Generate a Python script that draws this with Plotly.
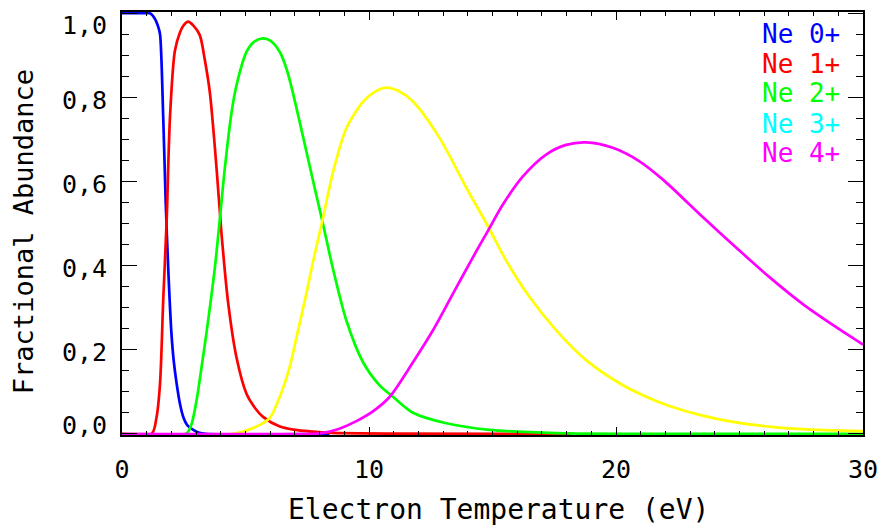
import plotly.graph_objects as go

# ---- data ----
t_ne0 = [0, 0.5, 1.0, 1.13, 1.33, 1.47, 1.54, 1.67, 1.77, 1.87, 2.0, 2.1, 2.21, 2.35, 2.48, 2.65, 2.87, 3.1, 3.4, 8.4]
v_ne0 = [1.0, 1.0, 1.0, 1.0, 0.987, 0.967, 0.95, 0.75, 0.55, 0.395, 0.24, 0.17, 0.12, 0.07, 0.04, 0.02, 0.01, 0.003, 0.0, 0.0]

t_ne1 = [0, 1.2, 1.4, 1.54, 1.67, 1.81, 1.94, 2.14, 2.35, 2.5, 2.68, 2.9, 3.15, 3.35, 3.56, 3.83, 4.03, 4.3, 4.64, 5.04, 5.4, 5.71, 6.39, 7.0, 7.74, 8.5, 18.2]
v_ne1 = [0, 0, 0.04, 0.12, 0.32, 0.51, 0.75, 0.91, 0.955, 0.972, 0.98, 0.97, 0.948, 0.89, 0.81, 0.63, 0.475, 0.31, 0.18, 0.095, 0.06, 0.04, 0.017, 0.009, 0.005, 0.002, 0]

t_ne2 = [0, 2.6, 2.8, 3.02, 3.2, 3.42, 3.76, 3.96, 4.16, 4.44, 4.64, 5.04, 5.3, 5.65, 6.0, 6.39, 6.66, 6.86, 7.2, 7.74, 8.11, 8.55, 9.08, 9.76, 10.43, 10.97, 11.78, 13.13, 14.88, 16.0, 18.0, 30]
v_ne2 = [0, 0, 0.02, 0.08, 0.15, 0.24, 0.395, 0.51, 0.63, 0.766, 0.83, 0.908, 0.93, 0.94, 0.935, 0.908, 0.868, 0.825, 0.74, 0.6, 0.506, 0.39, 0.27, 0.17, 0.115, 0.088, 0.05, 0.025, 0.009, 0.005, 0.001, 0]

t_ne3 = [0, 4.5, 4.9, 5.58, 5.98, 6.39, 6.79, 7.06, 7.47, 7.74, 8.11, 8.55, 9.08, 9.76, 10.2, 10.7, 11.2, 11.78, 12.86, 13.94, 14.81, 15.56, 16.5, 17.58, 18.79, 20.14, 21.22, 22.16, 23.5, 24.86, 26.2, 27.55, 30]
v_ne3 = [0, 0, 0.005, 0.021, 0.037, 0.088, 0.159, 0.228, 0.335, 0.411, 0.506, 0.624, 0.726, 0.79, 0.812, 0.823, 0.815, 0.79, 0.703, 0.585, 0.494, 0.411, 0.325, 0.246, 0.175, 0.12, 0.088, 0.066, 0.043, 0.027, 0.017, 0.011, 0.006]

t_ne4 = [0, 7.8, 8.14, 8.8, 9.49, 10.2, 10.84, 11.78, 12.59, 13.4, 14.2, 14.81, 15.42, 16.23, 17.17, 17.98, 18.79, 19.87, 20.95, 21.89, 23.5, 24.86, 26.2, 27.55, 28.9, 30]
v_ne4 = [0, 0, 0.002, 0.012, 0.03, 0.055, 0.088, 0.17, 0.246, 0.333, 0.419, 0.482, 0.545, 0.612, 0.664, 0.687, 0.693, 0.68, 0.648, 0.605, 0.516, 0.443, 0.373, 0.309, 0.254, 0.212]

series_names = ["Ne 0+", "Ne 1+", "Ne 2+", "Ne 3+", "Ne 4+"]
line_colors = ["#0000FF", "#FF0000", "#00FF00", "#FFFF00", "#FF00FF"]
label_colors = ["#0000FF", "#FF0000", "#00FF00", "#00FFFF", "#FF00FF"]

y_tickvals = [0.0, 0.2, 0.4, 0.6, 0.8, 1.0]
y_ticktext = ["0,0", "0,2", "0,4", "0,6", "0,8", "1,0"]
x_tickvals = [0, 10, 20, 30]
x_ticktext = ["0", "10", "20", "30"]

FONT = "DejaVu Sans Mono"

fig = go.Figure()
data = [(t_ne0, v_ne0), (t_ne1, v_ne1), (t_ne2, v_ne2), (t_ne3, v_ne3), (t_ne4, v_ne4)]
for (tx, vy), name, col in zip(data, series_names, line_colors):
    fig.add_trace(go.Scatter(x=tx, y=vy, mode="lines", name=name,
                             line=dict(color=col, width=2.7, shape="spline", smoothing=0.8),
                             showlegend=False, hoverinfo="skip"))

# coloured legend labels
legend_y = [0.948, 0.877, 0.809, 0.735, 0.667]
for name, col, yy in zip(series_names, label_colors, legend_y):
    fig.add_annotation(text=name, xref="paper", yref="paper", x=0.972, y=yy,
                       xanchor="right", yanchor="middle", showarrow=False,
                       font=dict(family=FONT, size=26, color=col))

# y tick labels (kept inside the figure at the ends, like the original)
y_label_shift = [8, -3, -3, -3, -3, -12]
for val, txt, sh in zip(y_tickvals, y_ticktext, y_label_shift):
    fig.add_annotation(text=txt, xref="paper", yref="y", x=0, y=val, xshift=-13, yshift=sh,
                       xanchor="right", yanchor="middle", showarrow=False,
                       font=dict(family=FONT, size=25, color="black"))

fig.add_annotation(text="Electron Temperature (eV)", xref="paper", yref="paper",
                   x=0.508, y=-0.175, xanchor="center", yanchor="middle", showarrow=False,
                   font=dict(family=FONT, size=28, color="black"))
fig.add_annotation(text="Fractional Abundance", xref="paper", yref="paper",
                   x=-0.132, y=0.48, xanchor="center", yanchor="middle", showarrow=False,
                   textangle=-90, font=dict(family=FONT, size=27, color="black"))

fig.update_xaxes(range=[0, 30], tickvals=x_tickvals, ticktext=x_ticktext,
                 ticks="inside", ticklen=8, tickwidth=1.2, tickcolor="black",
                 showline=True, linecolor="black", linewidth=1.5, mirror="ticks",
                 showgrid=False, zeroline=False, ticklabelstandoff=11,
                 tickfont=dict(family=FONT, size=25, color="black"),
                 minor=dict(dtick=1, ticks="inside", ticklen=4, tickwidth=1.2, tickcolor="black", showgrid=False))
fig.update_yaxes(range=[-0.003, 1.003], tickvals=y_tickvals, showticklabels=False,
                 ticks="inside", ticklen=15, tickwidth=1.2, tickcolor="black",
                 showline=True, linecolor="black", linewidth=1.5, mirror="ticks",
                 showgrid=False, zeroline=False,
                 minor=dict(dtick=0.05, tick0=0, ticks="inside", ticklen=7, tickwidth=1.2, tickcolor="black", showgrid=False))

fig.update_layout(width=888, height=532, autosize=False,
                  margin=dict(l=122, r=24, t=10, b=97),
                  paper_bgcolor="white", plot_bgcolor="white")

fig.write_html("out.html")
